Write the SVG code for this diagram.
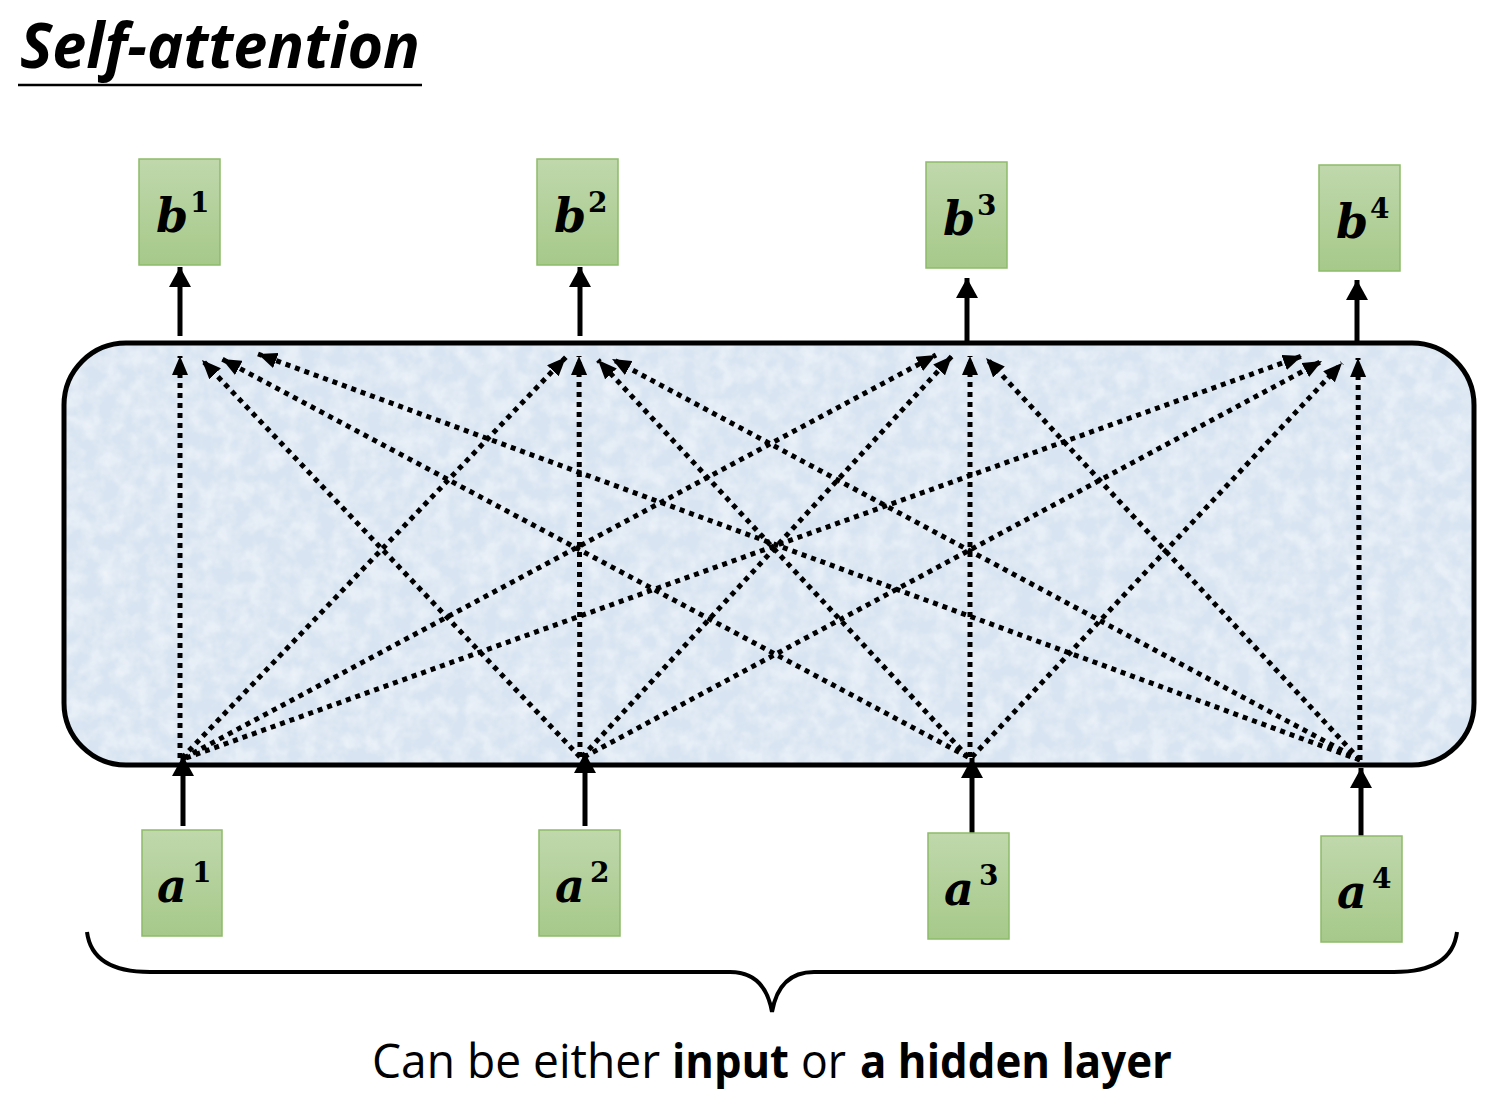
<svg xmlns="http://www.w3.org/2000/svg" width="1494" height="1094" viewBox="0 0 1494 1094">
<defs>
<linearGradient id="g" x1="0" y1="0" x2="0" y2="1">
<stop offset="0" stop-color="#c0d8ac"/>
<stop offset="1" stop-color="#a6c98a"/>
</linearGradient>
<filter id="tex" x="0" y="0" width="1" height="1">
<feTurbulence type="fractalNoise" baseFrequency="0.06" numOctaves="3" seed="4" result="n"/>
<feColorMatrix in="n" type="matrix" values="0 0 0 0 1  0 0 0 0 1  0 0 0 0 1  0 0 0 0.9 -0.3" result="w"/>
<feComposite in="w" in2="SourceGraphic" operator="in" result="wc"/>
<feMerge><feMergeNode in="SourceGraphic"/><feMergeNode in="wc"/></feMerge>
</filter>
<marker id="dh" markerUnits="userSpaceOnUse" markerWidth="20" markerHeight="16" refX="19" refY="8" orient="auto">
<path d="M0,0 L19,8 L0,16 z" fill="#000"/>
</marker>
<marker id="sh" markerUnits="userSpaceOnUse" markerWidth="20" markerHeight="22" refX="20" refY="11" orient="auto">
<path d="M0,0 L20,11 L0,22 z" fill="#000"/>
</marker>
</defs>
<style>
.box{fill:url(#g);stroke:#8dbb6a;stroke-width:1.5}
.lbl{font-family:"DejaVu Serif","Liberation Serif",serif;font-weight:bold;font-style:italic;font-size:46px;fill:#000}
.sup{font-family:"DejaVu Serif","Liberation Serif",serif;font-weight:bold;font-size:28px;fill:#000}
.dot{stroke:#000;stroke-width:5;stroke-dasharray:5 5;fill:none;marker-end:url(#dh)}
.sol{stroke:#000;stroke-width:5;fill:none;marker-end:url(#sh)}
.cap{font-family:"Open Sans","Noto Sans",sans-serif;font-size:47px;fill:#000}
</style>
<rect width="1494" height="1094" fill="#fff"/>
<g id="title">
<text x="20" y="68" font-family="'Open Sans','Noto Sans',sans-serif" font-weight="bold" font-style="italic" font-size="62" textLength="400" lengthAdjust="spacingAndGlyphs">Self-attention</text>
<line x1="18" y1="85" x2="422" y2="85" stroke="#000" stroke-width="2.5"/>
</g>
<g id="layer">
<rect x="64" y="343" width="1410" height="422" rx="62" ry="62" fill="#d8e4f2" filter="url(#tex)"/>
<rect x="64" y="343" width="1410" height="422" rx="62" ry="62" fill="none" stroke="#000" stroke-width="5"/>
</g>
<g id="connectors">
<path class="sol" d="M180,336 V267"/>
<path class="sol" d="M580,336 V267"/>
<path class="sol" d="M967,341 V278"/>
<path class="sol" d="M1357,342 V280"/>
<path class="sol" d="M183,826 V756"/>
<path class="sol" d="M585,826 V753"/>
<path class="sol" d="M972,834 V758"/>
<path class="sol" d="M1361,836 V768"/>
<path class="dot" d="M180,758 L180,356"/>
<path class="dot" d="M182,758 L566,357"/>
<path class="dot" d="M184,758 L936,355"/>
<path class="dot" d="M186,758 L1302,356"/>
<path class="dot" d="M580,757 L202,360"/>
<path class="dot" d="M580,757 L579,356"/>
<path class="dot" d="M582,757 L952,356"/>
<path class="dot" d="M584,757 L1322,361"/>
<path class="dot" d="M968,757 L222,359"/>
<path class="dot" d="M968,757 L598,360"/>
<path class="dot" d="M970,757 L970,356"/>
<path class="dot" d="M972,757 L1342,363"/>
<path class="dot" d="M1360,760 L258,354"/>
<path class="dot" d="M1360,760 L612,359"/>
<path class="dot" d="M1360,760 L986,358"/>
<path class="dot" d="M1360,760 L1358,358"/>
</g>
<g id="b1"><rect class="box" x="139" y="159" width="81" height="106"/><text class="lbl" x="156" y="232">b</text><text class="sup" x="190" y="212">1</text></g>
<g id="b2"><rect class="box" x="537" y="159" width="81" height="106"/><text class="lbl" x="554" y="232">b</text><text class="sup" x="588" y="212">2</text></g>
<g id="b3"><rect class="box" x="926" y="162" width="81" height="106"/><text class="lbl" x="943" y="235">b</text><text class="sup" x="977" y="215">3</text></g>
<g id="b4"><rect class="box" x="1319" y="165" width="81" height="106"/><text class="lbl" x="1336" y="238">b</text><text class="sup" x="1370" y="218">4</text></g>
<g id="a1"><rect class="box" x="142" y="830" width="80" height="106"/><text class="lbl" x="157" y="902">a</text><text class="sup" x="192" y="882">1</text></g>
<g id="a2"><rect class="box" x="539" y="830" width="81" height="106"/><text class="lbl" x="555" y="902">a</text><text class="sup" x="590" y="882">2</text></g>
<g id="a3"><rect class="box" x="928" y="833" width="81" height="106"/><text class="lbl" x="944" y="905">a</text><text class="sup" x="979" y="885">3</text></g>
<g id="a4"><rect class="box" x="1321" y="836" width="81" height="106"/><text class="lbl" x="1337" y="908">a</text><text class="sup" x="1372" y="888">4</text></g>
<g id="brace">
<path d="M87,932 Q92,972 150,972 H730 Q765,972 772,1012 Q779,972 814,972 H1394 Q1452,972 1457,932" fill="none" stroke="#000" stroke-width="4"/>
</g>
<g id="caption">
<text class="cap" x="372" y="1078" textLength="288" lengthAdjust="spacingAndGlyphs">Can be either</text>
<text class="cap" x="672" y="1078" font-weight="bold" textLength="117" lengthAdjust="spacingAndGlyphs">input</text>
<text class="cap" x="801" y="1078" textLength="45" lengthAdjust="spacingAndGlyphs">or</text>
<text class="cap" x="860" y="1078" font-weight="bold" textLength="312" lengthAdjust="spacingAndGlyphs">a hidden layer</text>
</g>
</svg>
